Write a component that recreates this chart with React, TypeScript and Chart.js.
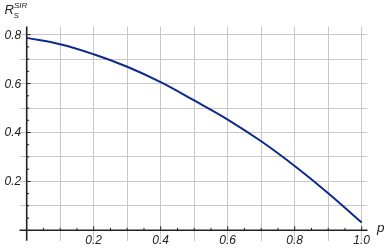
import React, { useEffect, useRef } from "react";
import { Chart, registerables } from "chart.js";

Chart.register(...registerables);

// Data
const pValues = [0, 0.1, 0.2, 0.3, 0.4, 0.5, 0.6, 0.7, 0.8, 0.9, 1.0];
const rValues = [0.787, 0.761, 0.720, 0.669, 0.606, 0.531, 0.453, 0.364, 0.263, 0.152, 0.032];

// Grid and tick definitions
const gridX = [0.1, 0.2, 0.3, 0.4, 0.5, 0.6, 0.7, 0.8, 0.9, 1.0];
const gridY = [0.1, 0.2, 0.3, 0.4, 0.5, 0.6, 0.7, 0.8];
const xMajorTicks = [0.2, 0.4, 0.6, 0.8, 1.0];
const xTickLabels = ["0.2", "0.4", "0.6", "0.8", "1.0"];
const yMajorTicks = [0.2, 0.4, 0.6, 0.8];
const yTickLabels = ["0.2", "0.4", "0.6", "0.8"];
const xMinorTicks = [0.05, 0.1, 0.15, 0.25, 0.3, 0.35, 0.45, 0.5, 0.55, 0.65, 0.7, 0.75, 0.85, 0.9, 0.95];
const yMinorTicks = [0.05, 0.1, 0.15, 0.25, 0.3, 0.35, 0.45, 0.5, 0.55, 0.65, 0.7, 0.75];

const AXIS_COLOR = "#222222";
const LABEL_FONT = "italic 12px 'Liberation Sans', Arial, sans-serif";

const axesPlugin = {
  id: "originAxes",
  beforeDatasetsDraw(chart: any) {
    const { ctx, chartArea } = chart;
    const xs = chart.scales.x;
    const ys = chart.scales.y;
    const x0 = xs.getPixelForValue(0);
    const y0 = ys.getPixelForValue(0);
    ctx.save();
    ctx.strokeStyle = AXIS_COLOR;
    ctx.lineWidth = 1.6;
    ctx.beginPath();
    ctx.moveTo(chartArea.left, y0);
    ctx.lineTo(chartArea.right, y0);
    ctx.moveTo(x0, chartArea.top);
    ctx.lineTo(x0, chartArea.bottom);
    ctx.stroke();

    ctx.lineWidth = 1;
    ctx.beginPath();
    xMajorTicks.forEach((v) => {
      const px = xs.getPixelForValue(v);
      ctx.moveTo(px, y0);
      ctx.lineTo(px, y0 - 4);
    });
    xMinorTicks.forEach((v) => {
      const px = xs.getPixelForValue(v);
      ctx.moveTo(px, y0);
      ctx.lineTo(px, y0 - 2.5);
    });
    yMajorTicks.forEach((v) => {
      const py = ys.getPixelForValue(v);
      ctx.moveTo(x0, py);
      ctx.lineTo(x0 + 4, py);
    });
    yMinorTicks.forEach((v) => {
      const py = ys.getPixelForValue(v);
      ctx.moveTo(x0, py);
      ctx.lineTo(x0 + 2.5, py);
    });
    ctx.stroke();

    ctx.fillStyle = AXIS_COLOR;
    ctx.font = LABEL_FONT;
    ctx.textAlign = "center";
    ctx.textBaseline = "alphabetic";
    xMajorTicks.forEach((v, i) => {
      ctx.fillText(xTickLabels[i], xs.getPixelForValue(v), y0 + 14);
    });
    ctx.textAlign = "right";
    yMajorTicks.forEach((v, i) => {
      ctx.fillText(yTickLabels[i], x0 - 5.5, ys.getPixelForValue(v) + 4);
    });

    // axis labels
    ctx.textAlign = "left";
    ctx.font = "italic 13px 'Liberation Sans', Arial, sans-serif";
    ctx.fillText("R", 4.5, 14);
    ctx.font = "italic 8px 'Liberation Sans', Arial, sans-serif";
    ctx.fillText("S", 13.5, 17.5);
    ctx.fillText("SIR", 14, 8);
    ctx.font = "italic 13.5px 'Liberation Sans', Arial, sans-serif";
    ctx.fillText("p", chartArea.right + 9.5, y0 + 2);
    ctx.restore();
  },
};

export default function App() {
  const canvasRef = useRef<HTMLCanvasElement | null>(null);

  useEffect(() => {
    if (!canvasRef.current) return;
    const chart = new Chart(canvasRef.current, {
      type: "line",
      data: {
        datasets: [
          {
            data: pValues.map((p, i) => ({ x: p, y: rValues[i] })),
            borderColor: "#0d2a8c",
            borderWidth: 2,
            pointRadius: 0,
            fill: false,
            tension: 0.4,
          },
        ],
      },
      options: {
        animation: false,
        responsive: true,
        maintainAspectRatio: false,
        layout: { padding: { left: 19.5, top: 26.5, right: 19.5, bottom: 9.3 } },
        plugins: { legend: { display: false }, tooltip: { enabled: false } },
        scales: {
          x: {
            type: "linear",
            min: -0.0215,
            max: 1.0173,
            border: { display: false },
            ticks: { display: false },
            grid: { color: "#c8c8c8", lineWidth: 1, drawTicks: false },
            afterBuildTicks: (scale: any) => {
              scale.ticks = gridX.map((v) => ({ value: v }));
            },
          },
          y: {
            type: "linear",
            min: -0.0425,
            max: 0.8335,
            border: { display: false },
            ticks: { display: false },
            grid: { color: "#c8c8c8", lineWidth: 1, drawTicks: false },
            afterBuildTicks: (scale: any) => {
              scale.ticks = gridY.map((v) => ({ value: v }));
            },
          },
        },
      },
      plugins: [axesPlugin],
    } as any);
    return () => chart.destroy();
  }, []);

  return (
    <div style={{ position: "fixed", left: 0, top: 0, width: 387, height: 250, background: "#fff" }}>
      <canvas ref={canvasRef} />
    </div>
  );
}
